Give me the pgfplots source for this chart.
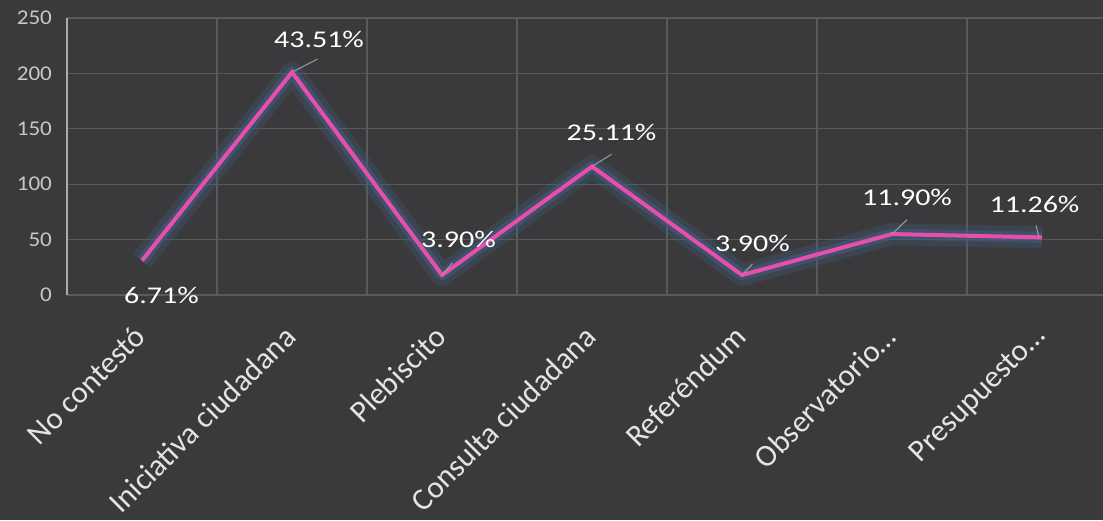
\documentclass[border=0pt]{standalone}
\usepackage{fontspec}
\setmainfont{Carlito}
\newfontfamily\lblfont[FakeStretch=1.25]{Carlito}
\newfontfamily\tickfont[FakeStretch=1.1]{Carlito}
\usepackage{pgfplots}
\pgfplotsset{compat=1.18}
\definecolor{bg}{RGB}{58,58,60}
\definecolor{gridc}{RGB}{90,90,92}
\definecolor{pinkline}{RGB}{232,78,172}
\definecolor{glow}{RGB}{66,92,124}
\definecolor{ticktxt}{RGB}{200,200,200}
\definecolor{cattxt}{RGB}{228,228,228}

\begin{document}
\begin{tikzpicture}[x=1pt,y=1pt]
\fill[bg] (0,0) rectangle (551.5,260);
\clip (0,0) rectangle (551.5,260);
\begin{axis}[
    at={(33.5pt,112.5pt)}, anchor=south west,
    scale only axis, width=525pt, height=138.5pt,
    xmin=-0.5, xmax=6.5, ymin=0, ymax=250,
    ytick={0,50,...,250},
    yticklabels={0,50,100,150,200,250},
    xtick={0,...,6},
    xticklabels={No contestó, Iniciativa ciudadana, Plebiscito, Consulta ciudadana, Referéndum, Observatorio…, Presupuesto…},
    minor xtick={0.5,1.5,...,6.5},
    xminorgrids, ymajorgrids,
    grid style={gridc, line width=0.6pt},
    minor grid style={gridc, line width=0.6pt},
    major tick length=0pt, minor tick length=0pt,
    axis line style={draw=none},
    extra x ticks={-0.5},
    extra x tick labels={},
    extra x tick style={grid=major, major grid style={ticktxt!80!bg, line width=0.6pt}},
    yticklabel style={font=\tickfont\fontsize{10.5}{12}\selectfont, text=ticktxt, xshift=-4pt},
    xticklabel style={font=\fontsize{15.5}{18}\selectfont, text=cattxt, rotate=45, anchor=north east, inner sep=0pt, yshift=-6.6pt, xshift=-13.3pt},
    clip=false,
]
\addplot[glow, opacity=0.3, line width=11pt, line join=round] coordinates {(0,31) (1,201) (2,18) (3,116) (4,18) (5,55) (6,52)};
\addplot[glow, opacity=0.6, line width=5.5pt, line join=round] coordinates {(0,31) (1,201) (2,18) (3,116) (4,18) (5,55) (6,52)};
\addplot[pinkline, line width=2pt, line join=miter] coordinates {(0,31) (1,201) (2,18) (3,116) (4,18) (5,55) (6,52)};

\draw[ticktxt!70!bg, line width=0.5pt] (axis cs:1,201) -- (axis cs:1.17,213);
\draw[ticktxt!70!bg, line width=0.5pt] (axis cs:2,18) -- (axis cs:2.07,29);
\draw[ticktxt!70!bg, line width=0.5pt] (axis cs:3,116) -- (axis cs:3.13,127);
\draw[ticktxt!70!bg, line width=0.5pt] (axis cs:4,18) -- (axis cs:4.07,28);
\draw[ticktxt!70!bg, line width=0.5pt] (axis cs:5,55) -- (axis cs:5.1,68);
\draw[ticktxt!70!bg, line width=0.5pt] (axis cs:5.98,52) -- (axis cs:5.96,63);

\tikzset{pct/.style={font=\lblfont\fontsize{12}{14}\selectfont, text=white, inner sep=0pt}}
\node[pct] at (axis cs:0.13,0) {6.71\%};
\node[pct] at (axis cs:1.18,231) {43.51\%};
\node[pct] at (axis cs:2.11,50) {3.90\%};
\node[pct] at (axis cs:3.13,147) {25.11\%};
\node[pct] at (axis cs:4.07,47) {3.90\%};
\node[pct] at (axis cs:5.1,88) {11.90\%};
\node[pct] at (axis cs:5.95,82) {11.26\%};
\end{axis}
\end{tikzpicture}
\end{document}
